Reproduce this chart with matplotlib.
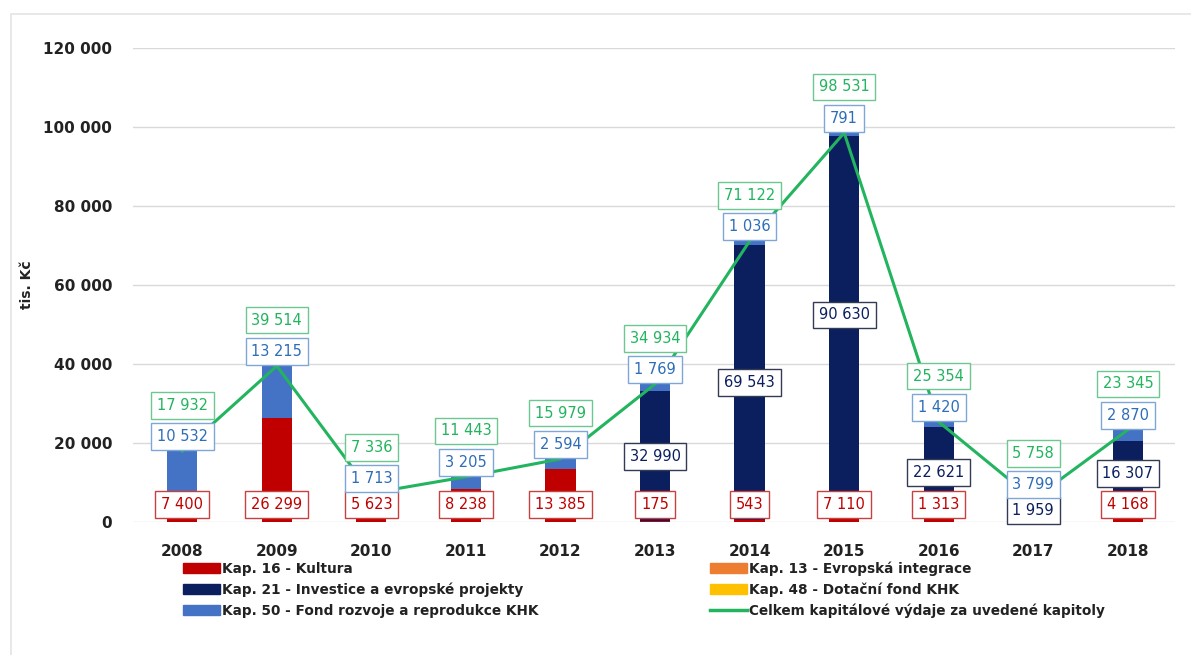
import matplotlib.pyplot as plt
from matplotlib.patches import Patch, Rectangle
from matplotlib.lines import Line2D
import numpy as np

# data (tis. Kč)
years = ['2008', '2009', '2010', '2011', '2012', '2013', '2014', '2015', '2016', '2017', '2018']
kap16 = [7400, 26299, 5623, 8238, 13385, 175, 543, 7110, 1313, 0, 4168]
kap21 = [0, 0, 0, 0, 0, 32990, 69543, 90630, 22621, 1959, 16307]
kap50 = [10532, 13215, 1713, 3205, 2594, 1769, 1036, 791, 1420, 3799, 2870]
kap13 = [0] * 11
kap48 = [0] * 11
total = [17932, 39514, 7336, 11443, 15979, 34934, 71122, 98531, 25354, 5758, 23345]

c_red = '#C00000'
c_navy = '#0B1F5E'
c_blue = '#4472C4'
c_orange = '#ED7D31'
c_yellow = '#FFC000'
c_green = '#22B45E'

plt.rcParams['font.family'] = ['DejaVu Sans']

def fmt(v):
    return f'{v:,}'.replace(',', ' ')

fig = plt.figure(figsize=(11.91, 6.55), dpi=100)
ax = fig.add_axes([0.1117, 0.203, 0.875, 0.7237])

# light frame around the chart
fig.patches.append(Rectangle((11 / 1191, -0.1), 1.2, 1 - 14 / 655 + 0.1, transform=fig.transFigure,
                             fill=False, edgecolor='#e4e4e4', lw=1.2))

x = np.arange(len(years))
w = 0.32
b16 = np.array(kap16)
b21 = np.array(kap21)
b50 = np.array(kap50)
ax.bar(x, b16, w, color=c_red, zorder=2)
ax.bar(x, b21, w, bottom=b16, color=c_navy, zorder=2)
ax.bar(x, b50, w, bottom=b16 + b21, color=c_blue, zorder=2)
ax.plot(x, total, color=c_green, lw=2.2, zorder=3)

ax.set_xlim(-0.52, 10.5)
ax.set_ylim(0, 120000)
ax.set_yticks(range(0, 120001, 20000))
ax.set_yticklabels([fmt(v) for v in range(0, 120001, 20000)])
ax.set_xticks(x)
ax.set_xticklabels(years)
for s in ax.spines.values():
    s.set_visible(False)
ax.grid(axis='y', color='#d9d9d9', lw=1, zorder=0)
ax.tick_params(length=0, labelsize=11, colors='#222222')
ax.tick_params(axis='x', pad=16)
ax.tick_params(axis='y', pad=15)
for t in ax.get_xticklabels() + ax.get_yticklabels():
    t.set_fontweight('bold')
ax.set_ylabel('tis. Kč', fontsize=10, fontweight='bold', color='#222222')
ax.yaxis.set_label_coords(-0.095, 0.5)


def box(xx, yy, v, tc, ec, dy=0):
    ax.annotate(fmt(v), (xx, yy), xytext=(0, dy), textcoords='offset points',
                ha='center', va='center', fontsize=10.5, color=tc, zorder=5,
                bbox=dict(boxstyle='square,pad=0.4', fc='white', ec=ec, lw=1.0),
                annotation_clip=False)


for i in range(len(years)):
    if kap16[i]:
        box(i, 4400, kap16[i], c_red, '#c84040')
    if kap21[i]:
        mid = max(kap16[i] + kap21[i] / 2, 3000)
        box(i, mid, kap21[i], c_navy, '#333a55')
    box(i, total[i], kap50[i], '#2E6DB8', '#7fa6d8', dy=10.5)
    box(i, total[i], total[i], c_green, '#6cc890', dy=33)

handles = [
    Patch(color=c_red, label='Kap. 16 - Kultura'),
    Patch(color=c_navy, label='Kap. 21 - Investice a evropské projekty'),
    Patch(color=c_blue, label='Kap. 50 - Fond rozvoje a reprodukce KHK'),
    Patch(color=c_orange, label='Kap. 13 - Evropská integrace'),
    Patch(color=c_yellow, label='Kap. 48 - Dotační fond KHK'),
    Line2D([], [], color=c_green, lw=2.5, label='Celkem kapitálové výdaje za uvedené kapitoly'),
]
leg = fig.legend(handles=handles, ncol=2, loc='upper left', bbox_to_anchor=(183 / 1191, 1 - 561 / 655),
                 frameon=False, prop={'size': 9.8, 'weight': 'bold'}, handlelength=2.7,
                 handleheight=0.7, handletextpad=0.15, columnspacing=12.6, labelspacing=0.5,
                 borderaxespad=0, borderpad=0)
for t in leg.get_texts():
    t.set_color('#222222')

fig.savefig('out.png', dpi=100)
